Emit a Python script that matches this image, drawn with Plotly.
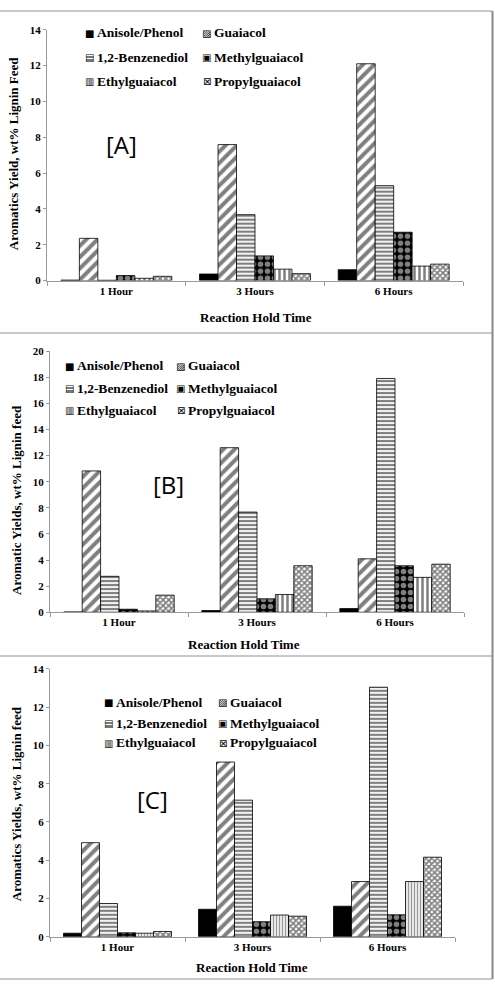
import plotly.graph_objects as go

W, H = 495, 987

categories = ["1 Hour", "3 Hours", "6 Hours"]
series_names = ["Anisole/Phenol", "Guaiacol", "1,2-Benzenediol",
                "Methylguaiacol", "Ethylguaiacol", "Propylguaiacol"]
legend_icons = ["\u25A0", "\u25A8", "\u25A4", "\u25A3", "\u25A5", "\u22A0"]

# Panel A values (wt% lignin feed)
a_anisole = [0.03, 0.37, 0.61]
a_guaiacol = [2.36, 7.59, 12.10]
a_benzenediol = [0.02, 3.68, 5.30]
a_methyl = [0.28, 1.38, 2.70]
a_ethyl = [0.13, 0.64, 0.81]
a_propyl = [0.24, 0.39, 0.92]

# Panel B values
b_anisole = [0.02, 0.13, 0.28]
b_guaiacol = [10.82, 12.60, 4.09]
b_benzenediol = [2.75, 7.67, 17.90]
b_methyl = [0.23, 1.03, 3.56]
b_ethyl = [0.10, 1.36, 2.67]
b_propyl = [1.31, 3.56, 3.68]

# Panel C values
c_anisole = [0.19, 1.44, 1.60]
c_guaiacol = [4.92, 9.13, 2.89]
c_benzenediol = [1.74, 7.14, 13.04]
c_methyl = [0.21, 0.79, 1.15]
c_ethyl = [0.19, 1.14, 2.89]
c_propyl = [0.28, 1.08, 4.16]

y_titles = ["Aromatics Yield, wt% Lignin Feed",
            "Aromatic Yields, wt% Lignin feed",
            "Aromatics Yields, wt% Lignin feed"]
x_title = "Reaction Hold Time"
panel_labels = ["[A]", "[B]", "[C]"]
y_max = [14, 20, 14]

panels = [
    [a_anisole, a_guaiacol, a_benzenediol, a_methyl, a_ethyl, a_propyl],
    [b_anisole, b_guaiacol, b_benzenediol, b_methyl, b_ethyl, b_propyl],
    [c_anisole, c_guaiacol, c_benzenediol, c_methyl, c_ethyl, c_propyl],
]

SERIF = "Liberation Serif, Times New Roman, serif"
SANS = "Open Sans, Noto Sans, sans-serif"


def px_x(p):
    return p / W


def px_y(p):
    return 1 - p / H


def pattern(i, panel):
    if i == 0:
        return dict(shape="", fgcolor="black", bgcolor="black")
    if i == 1:
        return dict(shape="/", size=8, solidity=0.5, fgcolor="black", bgcolor="white")
    if i == 2:
        return dict(shape="-", size=4, solidity=0.55, fgcolor="black", bgcolor="white")
    if i == 3:
        return dict(shape=".", size=7, solidity=0.5, fgcolor="white", bgcolor="black")
    if i == 4:
        if panel == 2:
            return dict(shape="|", size=3, solidity=0.5, fgcolor="#333", bgcolor="white")
        return dict(shape="|", size=5, solidity=0.5, fgcolor="black", bgcolor="white")
    return dict(shape="x", size=4, solidity=0.65, fgcolor="black", bgcolor="white")


# geometry per panel (pixels)
geo = [
    dict(x0=47, x1=463, y0=278, y1=24, ytit=(13, 150), xtit=(256, 315), lab=(121, 140),
         leg_text_x=96, leg_col=117, leg_rows=[27, 52, 76]),
    dict(x0=50, x1=464, y0=613.7, y1=349.3, ytit=(17, 500), xtit=(244, 646), lab=(168, 484),
         leg_text_x=76, leg_col=111, leg_rows=[364, 387, 409]),
    dict(x0=50, x1=455, y0=942.3, y1=671, ytit=(16, 808), xtit=(252, 973), lab=(152, 803),
         leg_text_x=115, leg_col=114, leg_rows=[705, 726, 746]),
]

fig = go.Figure()
layout = dict(
    width=W, height=H, margin=dict(l=0, r=0, t=0, b=0),
    paper_bgcolor="white", plot_bgcolor="white",
    bargap=0.2, bargroupgap=0, barmode="group", showlegend=False,
    font=dict(family=SERIF, color="black"),
)
annotations = []
shapes = []

for p in range(3):
    g = geo[p]
    suffix = "" if p == 0 else str(p + 1)
    xa = "x" + suffix
    ya = "y" + suffix
    for i, name in enumerate(series_names):
        row, col = i // 2, i % 2
        fig.add_trace(go.Bar(
            x=categories, y=panels[p][i], name=name,
            xaxis=xa, yaxis=ya, showlegend=False,
            marker=dict(color="white" if i else "black",
                        line=dict(color="black", width=0.8),
                        pattern=pattern(i, p)),
        ))
        tx = g["leg_text_x"] + col * g["leg_col"]
        ty = g["leg_rows"][row]
        annotations.append(dict(
            text=name, xref="paper", yref="paper",
            x=px_x(tx), y=px_y(ty), xanchor="left", yanchor="middle",
            showarrow=False, borderpad=0,
            font=dict(family=SERIF, size=13.5, weight="bold", color="black"),
        ))
        annotations.append(dict(
            text=legend_icons[i], xref="paper", yref="paper",
            x=px_x(tx - 1), y=px_y(ty + 0.5), xanchor="right", yanchor="middle",
            showarrow=False, borderpad=0,
            font=dict(family="DejaVu Sans", size=10, color="black"),
        ))
    layout["xaxis" + suffix] = dict(
        domain=[px_x(g["x0"]), px_x(g["x1"])], anchor=ya,
        showline=True, linecolor="#9a9a9a", linewidth=1,
        ticks="outside", tickson="boundaries", ticklen=4, tickcolor="#9a9a9a",
        tickfont=dict(family=SERIF, size=11, weight="bold", color="black"),
        showgrid=False, zeroline=False, fixedrange=True,
    )
    layout["yaxis" + suffix] = dict(
        domain=[px_y(g["y0"]), px_y(g["y1"])], anchor=xa,
        range=[0, y_max[p]], dtick=2, tick0=0,
        showline=True, linecolor="#9a9a9a", linewidth=1,
        ticks="outside", ticklen=3, tickcolor="#9a9a9a",
        tickfont=dict(family=SERIF, size=11, weight="bold", color="black"),
        showgrid=False, zeroline=False, fixedrange=True,
    )
    annotations.append(dict(
        text=y_titles[p], xref="paper", yref="paper",
        x=px_x(g["ytit"][0]), y=px_y(g["ytit"][1]), textangle=-90,
        showarrow=False, xanchor="center", yanchor="middle",
        font=dict(family=SERIF, size=13, weight="bold", color="black"),
    ))
    annotations.append(dict(
        text=x_title, xref="paper", yref="paper",
        x=px_x(g["xtit"][0]), y=px_y(g["xtit"][1]),
        showarrow=False, xanchor="center", yanchor="middle",
        font=dict(family=SERIF, size=13, weight="bold", color="black"),
    ))
    annotations.append(dict(
        text=panel_labels[p], xref="paper", yref="paper",
        x=px_x(g["lab"][0]), y=px_y(g["lab"][1]),
        showarrow=False, xanchor="center", yanchor="middle",
        font=dict(family=SANS, size=24, color="black"),
    ))

# panel frames
for yy in [5, 331, 658, 985]:
    shapes.append(dict(type="line", xref="paper", yref="paper",
                       x0=0, x1=px_x(492), y0=px_y(yy), y1=px_y(yy),
                       line=dict(color="#c8c8c8", width=2)))
shapes.append(dict(type="line", xref="paper", yref="paper",
                   x0=px_x(492.5), x1=px_x(492.5), y0=px_y(5), y1=px_y(985),
                   line=dict(color="#8a8a8a", width=2)))

layout["annotations"] = annotations
layout["shapes"] = shapes
fig.update_layout(**layout)
fig.write_html("out.html")
